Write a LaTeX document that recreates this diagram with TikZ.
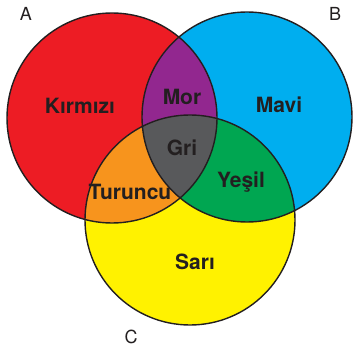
\documentclass[tikz,border=0pt]{standalone}
\usepackage{fontspec}
\setmainfont{TeX Gyre Heros}
\usepackage{tikz}
\newcommand{\myradius}{105pt}
\definecolor{kirmizi}{HTML}{ED1C24}
\definecolor{mavi}{HTML}{00AEEF}
\definecolor{sari}{HTML}{FFF200}
\definecolor{mor}{HTML}{92278F}
\definecolor{turuncu}{HTML}{F7941D}
\definecolor{yesil}{HTML}{00A651}
\definecolor{gri}{HTML}{58595B}
\definecolor{koyu}{HTML}{231F20}
\tikzset{
    node style set/.style={font=\bfseries\fontsize{21}{21}\selectfont,text=koyu,inner sep=0pt},
    node style name/.style={font=\fontsize{18}{18}\selectfont,text=koyu,inner sep=0pt},
    line style circle/.style={draw=koyu,line width=1.4pt},
}

\begin{document}
\begin{tikzpicture}[x=1pt,y=-1pt]
\useasboundingbox (0,0) rectangle (353,347);
\coordinate (a) at (112,118);
\coordinate (b) at (247,117);
\coordinate (c) at (190,220);

% the three discs
\fill [kirmizi] (a) circle (\myradius);
\fill [mavi] (b) circle (\myradius);
\fill [sari] (c) circle (\myradius);

% overlaps of two discs
\begin{scope}
  \clip (a) circle (\myradius);
  \fill [mor] (b) circle (\myradius);
  \fill [turuncu] (c) circle (\myradius);
\end{scope}
\begin{scope}
  \clip (b) circle (\myradius);
  \fill [yesil] (c) circle (\myradius);
\end{scope}
% overlap of all three
\begin{scope}
  \clip (a) circle (\myradius);
  \clip (b) circle (\myradius);
  \fill [gri] (c) circle (\myradius);
\end{scope}

\draw [line style circle] (a) circle (\myradius);
\draw [line style circle] (b) circle (\myradius);
\draw [line style circle] (c) circle (\myradius);

% colour names
\node [node style set] (kirmizi) at (80,106) {Kırmızı};
\node [node style set] (mavi) at (279,105) {Mavi};
\node [node style set] (sari) at (195,262) {Sarı};
\node [node style set] (mor) at (182,97) {Mor};
\node [node style set] (turuncu) at (130,192) {Turuncu};
\node [node style set] (yesil) at (241,182) {Yeşil};
\node [node style set] (gri) at (182,148) {Gri};

% set names
\node [node style name] (A) at (26,14) {A};
\node [node style name] (B) at (335,14) {B};
\node [node style name] (C) at (131,337) {C};
\end{tikzpicture}
\end{document}
